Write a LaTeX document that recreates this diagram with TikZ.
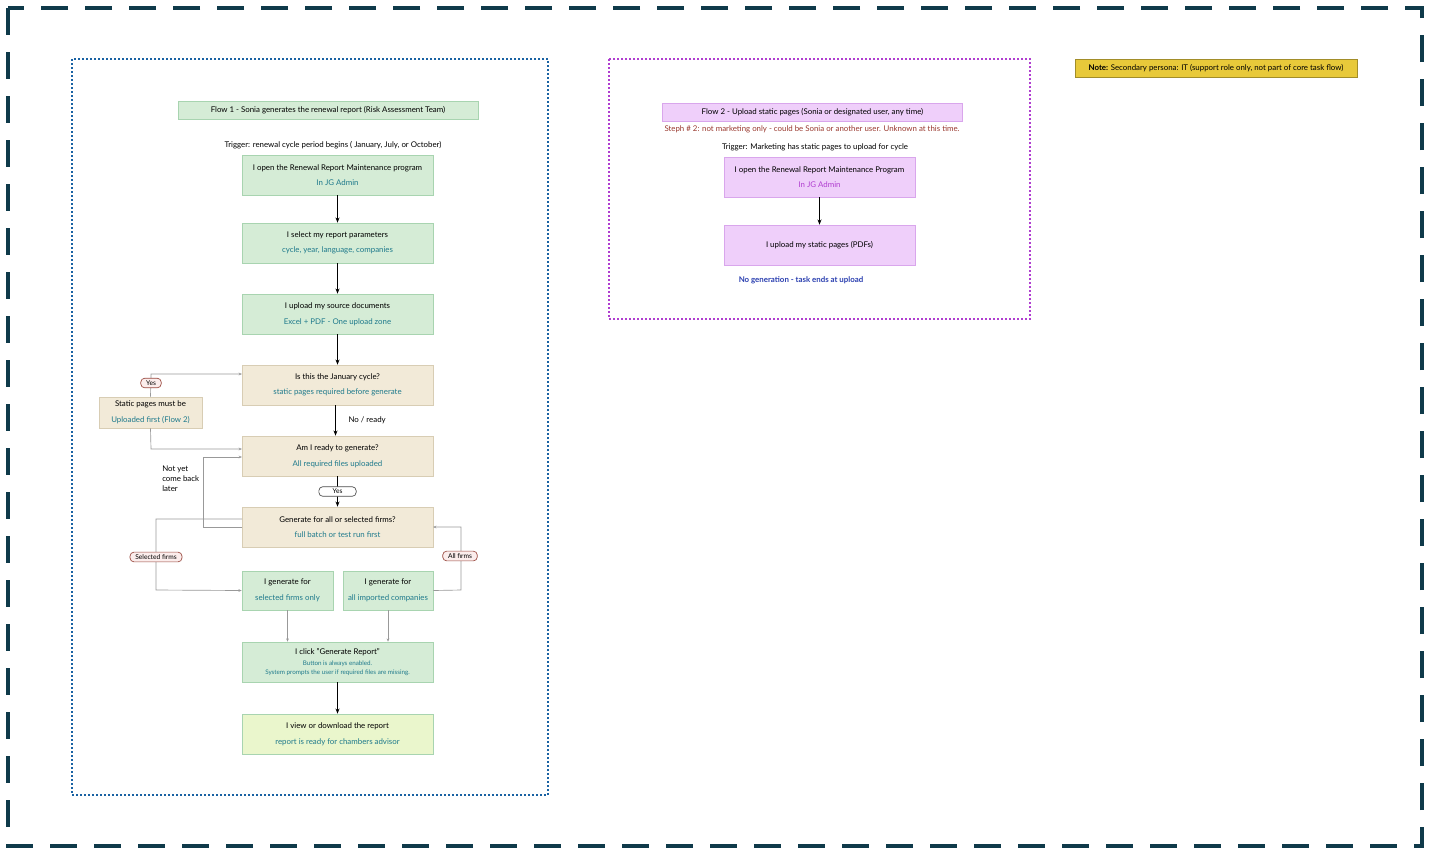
\documentclass[tikz,border=0pt]{standalone}
\usepackage{fontspec}
\setmainfont{Lato}
\usetikzlibrary{arrows.meta}
\definecolor{navy}{HTML}{0F3A4A}
\definecolor{gfill}{HTML}{D5ECD6}
\definecolor{gline}{HTML}{A8D4B0}
\definecolor{bfill}{HTML}{F2EAD8}
\definecolor{bline}{HTML}{D8CDB4}
\definecolor{yfill}{HTML}{EAF6CC}
\definecolor{pfill}{HTML}{EFCFFA}
\definecolor{pline}{HTML}{D9A6EC}
\definecolor{teal}{HTML}{1F7A8C}
\definecolor{purp}{HTML}{B03ED0}
\definecolor{brick}{HTML}{9A3A30}
\definecolor{dblue}{HTML}{2A3FB0}
\definecolor{pillfill}{HTML}{FBEDEC}
\definecolor{pillline}{HTML}{9A4A40}
\definecolor{notey}{HTML}{E8C93A}
\begin{document}
\begin{tikzpicture}[x=0.75pt,y=-0.75pt,
  every node/.style={font=\fontsize{5.9}{7.2}\selectfont},
  box/.style={draw, line width=0.4pt, minimum width=191*0.75pt, minimum height=40*0.75pt, align=center, inner sep=0pt},
  gbox/.style={box, fill=gfill, draw=gline},
  bbox/.style={box, fill=bfill, draw=bline},
  pbox/.style={box, fill=pfill, draw=pline},
  main/.style={-{Stealth[length=4pt,width=3pt]}, line width=0.9pt},
  thin/.style={-{Stealth[length=2.5pt,width=2pt]}, draw=gray!80, line width=0.5pt},
  pill/.style={draw=pillline, fill=pillfill, rounded corners=3pt, inner xsep=4pt, inner ysep=1.8pt, line width=0.5pt, font=\fontsize{5}{6}\selectfont}]
\useasboundingbox (0,0) rectangle (1430,854);
\fill[white] (0,0) rectangle (1430,854);
\draw[navy, line width=2.6pt, dash pattern=on 20pt off 13pt] (8,8) rectangle (1422,846);
\draw[teal!80!blue, line width=0.8pt, dash pattern=on 1.5pt off 1.5pt] (72,59) rectangle (548,795);
\draw[purp, line width=0.8pt, dash pattern=on 1.5pt off 1.5pt] (609,59) rectangle (1030,319);
\node[fill=notey, draw=notey!70!black, minimum width=282*0.75pt, minimum height=18*0.75pt, inner sep=0pt] (note) at (1216,68) {\textbf{Note:} Secondary persona: IT (support role only, not part of core task flow)};

% Flow 1
\node[fill=gfill, draw=gline, minimum width=300*0.75pt, minimum height=18*0.75pt, inner sep=0pt] (t1) at (328,110) {Flow 1 - Sonia generates the renewal report (Risk Assessment Team)};
\node (trig1) at (333,145) {Trigger: renewal cycle period begins ( January, July, or October)};
\node[gbox] (b1) at (337.5,175) {I open the Renewal Report Maintenance program\\[4.5pt]\textcolor{teal}{In JG Admin}};
\node[gbox] (b2) at (337.5,243) {I select my report parameters\\[4.5pt]\textcolor{teal}{cycle, year, language, companies}};
\node[gbox] (b3) at (337.5,314) {I upload my source documents\\[4.5pt]\textcolor{teal}{Excel + PDF - One upload zone}};
\node[bbox] (b4) at (337.5,385) {Is this the January cycle?\\[4.5pt]\textcolor{teal}{static pages required before generate}};
\node[bbox, minimum width=103*0.75pt, minimum height=31*0.75pt] (st) at (150.5,412.5) {Static pages must be\\[4.5pt]\textcolor{teal}{Uploaded first (Flow 2)}};
\node[bbox] (b5) at (337.5,456) {Am I ready to generate?\\[4.5pt]\textcolor{teal}{All required files uploaded}};
\node[bbox] (b6) at (337.5,527) {Generate for all or selected firms?\\[4.5pt]\textcolor{teal}{full batch or test run first}};
\node[gbox, minimum width=91*0.75pt, minimum height=39*0.75pt] (g1) at (287.5,590.5) {I generate for\\[4.5pt]\textcolor{teal}{selected firms only}};
\node[gbox, minimum width=90*0.75pt, minimum height=39*0.75pt] (g2) at (388,590.5) {I generate for\\[4.5pt]\textcolor{teal}{all imported companies}};
\node[gbox] (b7) at (337.5,662) {I click "Generate Report"\\[1pt]{\fontsize{4.7}{5.5}\selectfont\textcolor{teal}{Button is always enabled.}}\\{\fontsize{4.7}{5.5}\selectfont\textcolor{teal}{System prompts the user if required files are missing.}}};
\node[box, fill=yfill, draw=gline] (b8) at (337.5,734) {I view or download the report\\[4.5pt]\textcolor{teal}{report is ready for chambers advisor}};

\draw[main] (b1) -- (b2);
\draw[main] (b2) -- (b3);
\draw[main] (b3) -- (b4);
\draw[main] (b4.south) ++(-2,0) coordinate (b4s) -- (b4s |- b5.north) node[midway, right=6pt] {No / ready};
\draw[main] (b5) -- (b6) node[midway, pill, draw=black!70, fill=white, minimum width=28pt] (yes2) {Yes};
\coordinate (b4l) at (242,374);
\draw[thin] (st.north) -- (151,374) -- (b4l);
\node[pill] (yes1) at (151,383) {Yes};
\coordinate (b5a) at (242,449);
\draw[thin] (st.south) -- (151,449) -- (b5a);
\coordinate (b5b) at (242,457);
\coordinate (b6a) at (242,527);
\draw[thin] (b6a) -- (203,527) -- (203,457) -- (b5b);
\node[align=left, anchor=north west, inner sep=0pt] (ny) at (162,466) {Not yet\\come back\\later};
\coordinate (b6b) at (242,519);
\draw[thin] (b6b) -- (156,519) -- (156,590) -- (g1.west);
\node[pill] (sf) at (156,557) {Selected firms};
\coordinate (b6r) at (433,527);
\draw[thin] (g2.east) -- (461,590) -- (461,527) -- (b6r);
\node[pill] (af) at (460,556) {All firms};
\draw[thin] (g1.south) -- (g1.south |- b7.north);
\draw[thin] (g2.south) -- (g2.south |- b7.north);
\draw[main] (b7) -- (b8);

% Flow 2
\node[fill=pfill, draw=pline, minimum width=300*0.75pt, minimum height=18*0.75pt, inner sep=0pt] (t2) at (812.5,112) {Flow 2 - Upload static pages (Sonia or designated user, any time)};
\node[text=brick] (steph) at (812,129) {Steph \# 2: not marketing only - could be Sonia or another user. Unknown at this time.};
\node (trig2) at (815,147) {Trigger: Marketing has static pages to upload for cycle};
\node[pbox] (p1) at (819.5,177) {I open the Renewal Report Maintenance Program\\[4.5pt]\textcolor{purp}{In JG Admin}};
\node[pbox] (p2) at (819.5,245) {I upload my static pages (PDFs)};
\draw[main] (p1) -- (p2);
\node[text=dblue] (ng) at (801,280) {\textbf{No generation - task ends at upload}};
\end{tikzpicture}
\end{document}
